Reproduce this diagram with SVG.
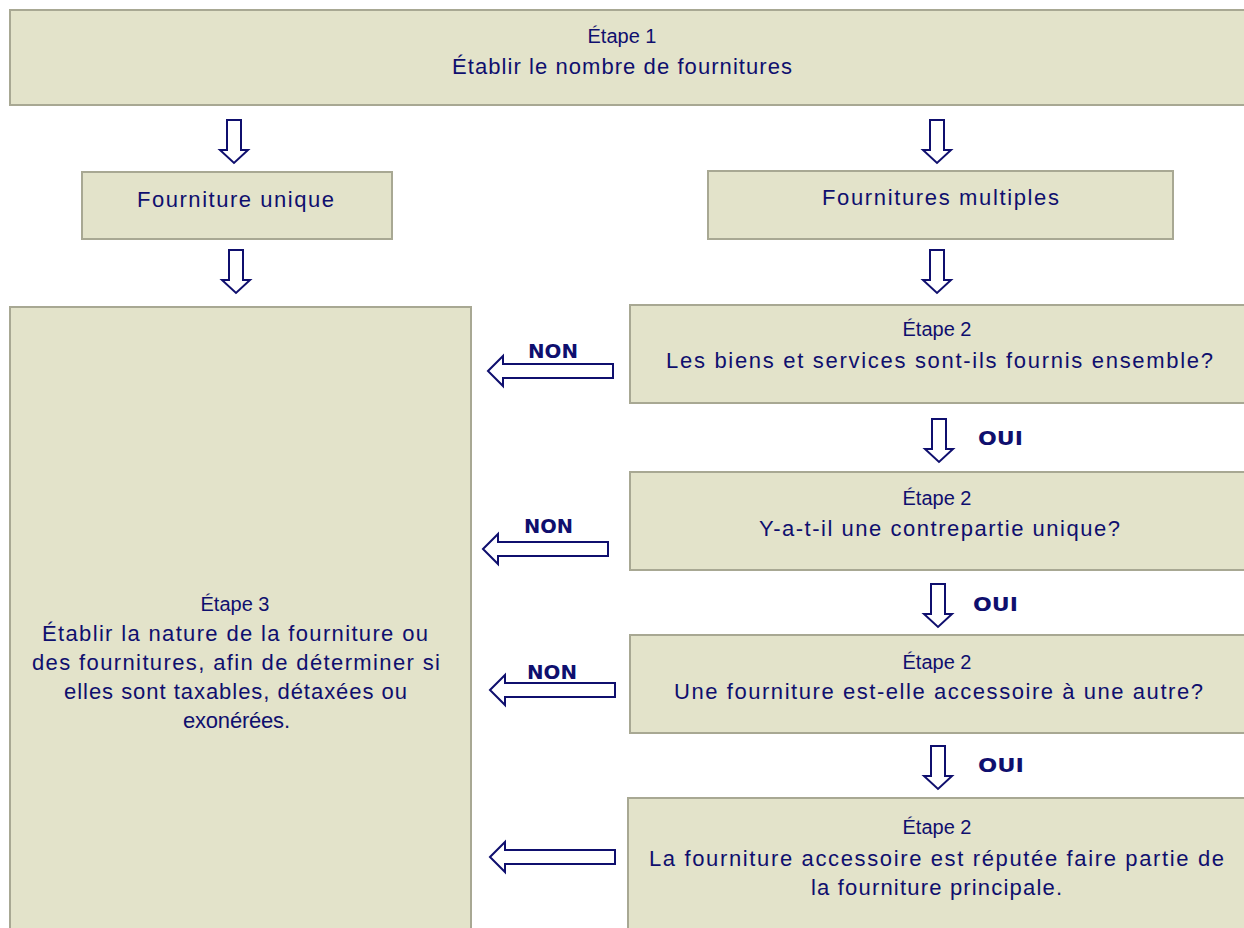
<svg xmlns="http://www.w3.org/2000/svg" width="1244" height="928" viewBox="0 0 1244 928">
<style>
.box{fill:#E3E3CA;stroke:#A8A893;stroke-width:2}
.t{font-family:"Liberation Sans",Arial,sans-serif;font-size:22px;fill:#0F0F6E}
.h{font-family:"Liberation Sans",Arial,sans-serif;font-size:20px;fill:#0F0F6E;text-anchor:middle}
.lbl{font-family:"DejaVu Sans",Verdana,sans-serif;font-weight:bold;font-size:19px;fill:#0F0F6E}
.arr{fill:#FFFFFF;stroke:#0F0F6E;stroke-width:2;stroke-linejoin:miter}
</style>
<defs>
<path id="down" d="M-7,0 L7,0 L7,30 L14,30 L0,43 L-14,30 L-7,30 Z"/>
<path id="left" d="M0,0 L15,-15 L15,-7 L125,-7 L125,7 L15,7 L15,15 Z"/>
</defs>
<rect width="1244" height="928" fill="#FFFFFF"/>
<g id="step1">
<rect class="box" x="10" y="10" width="1240" height="95"/>
<text class="h" x="622" y="43">Étape 1</text>
<text class="t" x="452" y="74" textLength="340" lengthAdjust="spacing">Établir le nombre de fournitures</text>
</g>
<g id="unique">
<rect class="box" x="82" y="172" width="310" height="67"/>
<text class="t" x="137" y="207" textLength="197" lengthAdjust="spacing">Fourniture unique</text>
</g>
<g id="multiples">
<rect class="box" x="708" y="171" width="465" height="68"/>
<text class="t" x="822" y="205" textLength="237" lengthAdjust="spacing">Fournitures multiples</text>
</g>
<g id="step3">
<rect class="box" x="10" y="307" width="461" height="630"/>
<text class="h" x="235" y="611">Étape 3</text>
<text class="t" x="42" y="641" textLength="386" lengthAdjust="spacing">Établir la nature de la fourniture ou</text>
<text class="t" x="32" y="670" textLength="408" lengthAdjust="spacing">des fournitures, afin de déterminer si</text>
<text class="t" x="64" y="699" textLength="343" lengthAdjust="spacing">elles sont taxables, détaxées ou</text>
<text class="t" x="183" y="728" textLength="107" lengthAdjust="spacing">exonérées.</text>
</g>
<g id="step2a">
<rect class="box" x="630" y="305" width="620" height="98"/>
<text class="h" x="937" y="336">Étape 2</text>
<text class="t" x="666" y="368" textLength="547" lengthAdjust="spacing">Les biens et services sont-ils fournis ensemble?</text>
</g>
<g id="step2b">
<rect class="box" x="630" y="472" width="620" height="98"/>
<text class="h" x="937" y="505">Étape 2</text>
<text class="t" x="759" y="536" textLength="361" lengthAdjust="spacing">Y-a-t-il une contrepartie unique?</text>
</g>
<g id="step2c">
<rect class="box" x="630" y="635" width="620" height="98"/>
<text class="h" x="937" y="669">Étape 2</text>
<text class="t" x="674" y="699" textLength="529" lengthAdjust="spacing">Une fourniture est-elle accessoire à une autre?</text>
</g>
<g id="step2d">
<rect class="box" x="628" y="798" width="622" height="140"/>
<text class="h" x="937" y="834">Étape 2</text>
<text class="t" x="649" y="866" textLength="575" lengthAdjust="spacing">La fourniture accessoire est réputée faire partie de</text>
<text class="t" x="811" y="895" textLength="251" lengthAdjust="spacing">la fourniture principale.</text>
</g>
<g id="connectors">
<use href="#down" class="arr" x="234" y="120"/>
<use href="#down" class="arr" x="236" y="250"/>
<use href="#down" class="arr" x="937" y="120"/>
<use href="#down" class="arr" x="937" y="250"/>
<use href="#down" class="arr" x="939" y="419"/>
<use href="#down" class="arr" x="938" y="584"/>
<use href="#down" class="arr" x="938" y="746"/>
<use href="#left" class="arr" x="488" y="371"/>
<use href="#left" class="arr" x="483" y="549"/>
<use href="#left" class="arr" x="490" y="690"/>
<use href="#left" class="arr" x="490" y="857"/>
<text class="lbl" x="528" y="358" textLength="50" lengthAdjust="spacingAndGlyphs">NON</text>
<text class="lbl" x="524" y="533" textLength="49" lengthAdjust="spacingAndGlyphs">NON</text>
<text class="lbl" x="527" y="679" textLength="50" lengthAdjust="spacingAndGlyphs">NON</text>
<text class="lbl" x="978" y="445" textLength="45" lengthAdjust="spacingAndGlyphs">OUI</text>
<text class="lbl" x="973" y="611" textLength="45" lengthAdjust="spacingAndGlyphs">OUI</text>
<text class="lbl" x="978" y="772" textLength="46" lengthAdjust="spacingAndGlyphs">OUI</text>
</g>
</svg>
